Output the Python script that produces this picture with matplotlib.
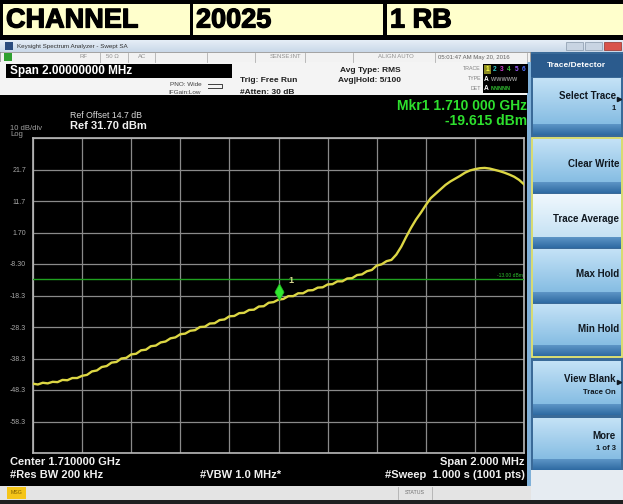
import numpy as np
import matplotlib
matplotlib.use("Agg")
import matplotlib.pyplot as plt
import matplotlib.patheffects as pe
from matplotlib.patches import Rectangle
from matplotlib.colors import LinearSegmentedColormap
from matplotlib.path import Path

plt.rcParams['font.family'] = ['Liberation Sans', 'DejaVu Sans']

# ---------------- data ----------------
header_cells = ["CHANNEL", "20025", "1 RB"]
center_ghz = 1.710
span_mhz = 2.0
ref_level = 31.70
db_per_div = 10
y_tick_labels = ["21.7", "11.7", "1.70", "-8.30", "-18.3", "-28.3", "-38.3", "-48.3", "-58.3"]
limit_line_dbm = -13.00
marker_freq_ghz = 1.710
marker_dbm = -19.615
trace_dbm = [
    -46.3, -46.55, -46.0, -46.2, -45.7, -45.8, -45.1, -45.2, -44.5, -44.5,
    -43.8, -43.5, -42.4, -42.1, -41.0, -40.7, -39.6, -39.4, -38.3, -38.1,
    -37.0, -36.8, -35.7, -35.5, -34.4, -34.2, -33.2, -32.9, -31.9, -31.6,
    -30.6, -30.4, -29.5, -29.3, -28.3, -28.2, -27.2, -27.1, -26.1, -25.9,
    -24.9, -24.8, -23.9, -23.8, -22.9, -22.8, -21.8, -21.7, -20.6, -20.4,
    -19.6, -19.4, -18.5, -18.5, -17.6, -17.6, -16.7, -16.6, -15.8, -15.7,
    -14.8, -14.7, -13.8, -13.8, -12.9, -12.8, -11.8, -11.6, -10.6, -10.2,
    -8.8, -8.4, -7.4, -7.0, -5.3, -2.8, 0.3, 3.2, 5.8, 8.0,
    10.4, 12.6, 14.0, 15.4, 16.8, 17.9, 18.8, 19.7, 20.7, 21.4,
    21.8, 22.1, 22.2, 22.0, 21.6, 21.2, 20.7, 20.1, 19.4, 18.4,
    17.0,
]
softkeys = [("Select Trace", "1", True, False),
            ("Clear Write", "", False, False),
            ("Trace Average", "", False, True),
            ("Max Hold", "", False, False),
            ("Min Hold", "", False, False),
            ("View Blank", "Trace On", True, False),
            ("More", "1 of 3", False, False)]

W, H = 623, 504
fig = plt.figure(figsize=(W / 100, H / 100), dpi=100)
fig.patch.set_facecolor('black')
ax0 = fig.add_axes([0, 0, 1, 1])
ax0.axis('off')


def rect(x, y, w, h, fc, ec='none', lw=0, z=1):
    ax0.add_patch(Rectangle((x, y), w, h, facecolor=fc, edgecolor=ec, linewidth=lw, zorder=z))


def grad(x, y, w, h, ctop, cbot, z=1):
    cmap = LinearSegmentedColormap.from_list('g', [ctop, cbot])
    arr = np.linspace(0, 1, 64)[:, None]
    ax0.imshow(arr, cmap=cmap, extent=(x, x + w, y + h, y), aspect='auto', zorder=z,
               interpolation='bilinear')


def txt(x, y, s, size=6, color='black', weight='normal', ha='left', va='center', z=5):
    return ax0.text(x, y, s, fontsize=size, color=color, fontweight=weight, ha=ha, va=va, zorder=z)


# ---------------- header ----------------
rect(0, 0, W, 40, 'black')
cells = [(3, 187), (193, 190), (387, 236)]
for (x0, w), label in zip(cells, header_cells):
    rect(x0, 4, w, 31, '#ffffcc', z=2)
    t = txt(x0 + 3, 20.5, label, size=19.5, weight='bold', z=3)
    t.set_path_effects([pe.withStroke(linewidth=0.9, foreground='black')])

# ---------------- window title bar ----------------
grad(0, 40, W, 12, '#e6eef7', '#c9d8e8', z=2)
rect(5, 42, 8, 8, '#2b4c7e', z=3)
txt(17, 46.5, "Keysight Spectrum Analyzer - Swept SA", size=4.5, color='#303030')
rect(566, 42, 17, 8, '#c8d4e2', ec='#8898aa', lw=0.5, z=3)
rect(585, 42, 17, 8, '#c8d4e2', ec='#8898aa', lw=0.5, z=3)
rect(604, 42, 17, 8, '#d9534a', ec='#90302a', lw=0.5, z=3)

# ---------------- status row ----------------
rect(0, 52, 530, 10, '#f2f2f2', ec='#b8b8b8', lw=0.5, z=2)
rect(4, 53, 8, 8, '#2fa02f', z=3)
for xd in [100, 128, 155, 207, 255, 305, 353, 435, 527]:
    ax0.plot([xd, xd], [52.5, 61.5], color='#b0b0b0', lw=0.6, zorder=3)
txt(80, 57, "RF", size=4.3, color='#909090')
txt(106, 57, "50 Ω", size=4.3, color='#909090')
txt(138, 57, "AC", size=4.3, color='#909090')
txt(270, 57, "SENSE:INT", size=4.3, color='#909090')
txt(378, 57, "ALIGN AUTO", size=4.3, color='#909090')
txt(438, 57, "05:01:47 AM May 20, 2016", size=4.3, color='#606060')

# ---------------- info row ----------------
rect(0, 62, 530, 33, '#f4f4f4', z=2)
rect(6, 64, 226, 14, 'black', z=3)
txt(10, 71, "Span 2.00000000 MHz", size=8.5, color='white', weight='bold', z=4)
txt(170, 84, "PNO: Wide", size=4.6, color='#404040')
txt(168, 92, "IFGain:Low", size=4.6, color='#404040')
ax0.plot([208, 222, 222, 208], [84, 84, 88, 88], color='#404040', lw=0.7, zorder=4)
txt(240, 81, "Trig: Free Run", size=6, weight='bold', color='#202020')
txt(240, 92, "#Atten: 30 dB", size=6, weight='bold', color='#202020')
txt(370, 71, "Avg Type: RMS", size=6, weight='bold', ha='center', color='#202020')
txt(369, 81, "Avg|Hold: 5/100", size=6, weight='bold', ha='center', color='#202020')
txt(481, 69, "TRACE", size=3.8, color='#808080', ha='right')
txt(481, 79, "TYPE", size=3.8, color='#808080', ha='right')
txt(481, 88, "DET", size=3.8, color='#808080', ha='right')
rect(483, 64, 45, 29, 'black', z=3)
rect(484, 65, 7, 9, '#8a8a20', z=4)
trace_cols = ['#ffff40', '#30c8c8', '#d040d0', '#40c040', '#a060ff', '#5070ff']
for i, c in enumerate(trace_cols):
    txt(487.5 + i * 7.2, 69.5, str(i + 1), size=4.8, color=c, weight='bold', ha='center', z=5)
txt(484, 79.5, "A", size=4.8, color='white', weight='bold', z=5)
txt(491, 79.5, "WWWWW", size=4.0, color='#909090', weight='bold', z=5)
txt(484, 89, "A", size=4.8, color='white', weight='bold', z=5)
txt(491, 89, "NNNNN", size=4.0, color='#30c030', weight='bold', z=5)

# ---------------- display area ----------------
rect(3, 95, 525, 391, 'black', z=2)
rect(527, 62, 4, 424, '#7fb0d8', z=2)
txt(70, 115, "Ref Offset 14.7 dB", size=6.3, color='#d8d8d8')
txt(70, 126, "Ref 31.70 dBm", size=8, weight='bold', color='#f0f0f0')
txt(10, 128, "10 dB/div", size=5.5, color='#a0a0a0')
txt(10, 134, "Log", size=5.5, color='#a0a0a0')
txt(527, 106, "Mkr1 1.710 000 GHz", size=10, weight='bold', color='#2ee02e', ha='right')
txt(527, 121, "-19.615 dBm", size=10, weight='bold', color='#2ee02e', ha='right')
txt(10, 462, "Center 1.710000 GHz", size=8, weight='bold', color='#f0f0f0')
txt(10, 475, "#Res BW 200 kHz", size=8, weight='bold', color='#f0f0f0')
txt(200, 475, "#VBW 1.0 MHz*", size=8, weight='bold', color='#f0f0f0')
txt(525, 462, "Span 2.000 MHz", size=8, weight='bold', color='#f0f0f0', ha='right')
txt(525, 475, "#Sweep  1.000 s (1001 pts)", size=8, weight='bold', color='#f0f0f0', ha='right')

# ---------------- bottom status bar ----------------
rect(0, 486, 531, 14, '#e4e4e4', z=2)
rect(7, 487, 19, 12, '#f5c518', z=3)
txt(16.5, 493, "MSG", size=3.8, color='#806000', ha='center')
for xd in [398, 432]:
    ax0.plot([xd, xd], [487, 499], color='#b0b0b0', lw=0.6, zorder=3)
txt(415, 493, "STATUS", size=3.8, color='#707070', ha='center')
rect(0, 500, W, 4, '#202020', z=2)

# ---------------- right softkey panel ----------------
rect(531, 52, 92, 448, '#3a6a98', z=2)
rect(531, 470, 92, 30, '#e6ecf2', z=3)
rect(531, 54, 92, 23, '#2b5b8d', z=3)
txt(576, 65.5, "Trace/Detector", size=6, color='white', weight='bold', ha='center', z=4)
key_rows = [(78, 135), (139, 193), (194, 248), (249, 303), (304, 356), (361, 415), (418, 470)]
for (y0, y1), (l1, l2, arrow, hl) in zip(key_rows, softkeys):
    h = y1 - y0
    if hl:
        grad(533, y0, 88, h - 11, '#f0f8fd', '#c6e2f4', z=3)
    else:
        grad(533, y0, 88, h - 11, '#c4e2f6', '#86bde3', z=3)
    grad(533, y1 - 11, 88, 11, '#5d95c6', '#2e6aa2', z=3)
    if l2:
        txt(616, y0 + 18, l1, size=7, weight='bold', color='#101820', ha='right', z=5)
        txt(616, y0 + 31, l2, size=5.5, weight='bold', color='#101820', ha='right', z=5)
    else:
        txt(619, y0 + 25, l1, size=7, weight='bold', color='#101820', ha='right', z=5)
    if arrow:
        ax0.plot([619], [y0 + 21], marker='>', ms=3, color='#101820', zorder=6)
rect(531.5, 138, 90.5, 219, 'none', ec='#e8e870', lw=1.3, z=6)

ax0.set_xlim(0, W)
ax0.set_ylim(H, 0)

# ---------------- spectrum axes ----------------
gx0, gx1, gy0, gy1 = 33, 524, 138, 453
ax = fig.add_axes([gx0 / W, 1 - gy1 / H, (gx1 - gx0) / W, (gy1 - gy0) / H], zorder=5)
ax.set_facecolor('black')
f0 = center_ghz - span_mhz / 2000
f1 = center_ghz + span_mhz / 2000
freq = np.linspace(f0, f1, len(trace_dbm))
bottom = ref_level - 10 * db_per_div
ax.set_xlim(f0, f1)
ax.set_ylim(bottom, ref_level)
ax.set_xticks(np.linspace(f0, f1, 11))
ax.set_xticklabels([])
yt = [ref_level - db_per_div * i for i in range(11)]
ax.set_yticks(yt)
ax.set_yticklabels([""] + y_tick_labels + [""])
ax.tick_params(length=0, labelsize=5, labelcolor='#a8a8a8', pad=5)
ax.grid(True, color='#8a8a8a', lw=0.9)
for s in ax.spines.values():
    s.set_color('#b8b8b8')
    s.set_linewidth(1.2)
ax.axhline(limit_line_dbm, color='#1fa01f', lw=1.0, zorder=3)
ax.text(f1 - 0.000004, limit_line_dbm + 0.4, "-13.00 dBm", fontsize=3.6, color='#2ec02e',
        ha='right', va='bottom')
ax.plot(freq, trace_dbm, color='#dcd644', lw=1.7, zorder=4, solid_joinstyle='round')
diamond = Path([(0, 0), (0.55, 1.0), (0, 2.0), (-0.55, 1.0), (0, 0)],
               [Path.MOVETO, Path.LINETO, Path.LINETO, Path.LINETO, Path.CLOSEPOLY])
ax.plot([marker_freq_ghz], [marker_dbm], marker=diamond, ms=24, color='#30e830',
        mec='#20b020', mew=0.5, zorder=6, linestyle='none')
ax.annotate("1", (marker_freq_ghz, marker_dbm), xytext=(7, 12), textcoords='offset points',
            fontsize=6.5, color='#d8d890', fontweight='bold', zorder=7)

fig.savefig("out.png", dpi=100, facecolor=fig.get_facecolor())
